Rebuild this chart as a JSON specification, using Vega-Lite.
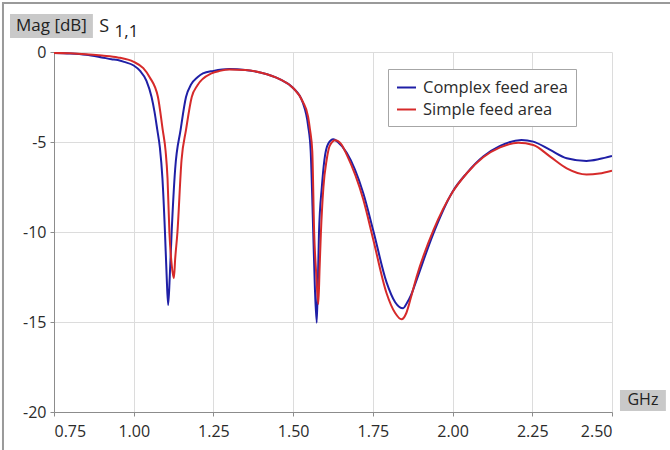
{
  "$schema": "https://vega.github.io/schema/vega-lite/v6.json",
  "width": 558,
  "height": 360,
  "autosize": "none",
  "padding": {"left": 54, "top": 52, "right": 58, "bottom": 38},
  "background": "white",
  "config": {
    "font": "Open Sans",
    "view": {"stroke": null},
    "axis": {
      "gridColor": "#dcdcdc",
      "gridWidth": 1,
      "domainColor": "#8c8c8c",
      "tickColor": "#8c8c8c",
      "tickSize": 4,
      "labelFont": "Open Sans",
      "labelFontSize": 16,
      "labelColor": "#2b2b2b",
      "title": null
    },
    "legend": {
      "orient": "none",
      "legendX": 334,
      "legendY": 17,
      "title": null,
      "symbolType": "stroke",
      "symbolSize": 361,
      "symbolStrokeWidth": 2,
      "labelFont": "Open Sans",
      "labelFontSize": 16.5,
      "labelColor": "#2b2b2b",
      "labelOffset": 6,
      "strokeColor": "#a6a6a6",
      "fillColor": "white",
      "padding": 8,
      "rowPadding": 3
    }
  },
  "datasets": {
    "one": [{"k": 1}],
    "curves": [
      {"f": 0.75, "db": -0.05, "s": "Complex feed area"},
      {"f": 0.80, "db": -0.08, "s": "Complex feed area"},
      {"f": 0.85, "db": -0.15, "s": "Complex feed area"},
      {"f": 0.90, "db": -0.3, "s": "Complex feed area"},
      {"f": 0.93, "db": -0.4, "s": "Complex feed area"},
      {"f": 0.95, "db": -0.45, "s": "Complex feed area"},
      {"f": 0.97, "db": -0.55, "s": "Complex feed area"},
      {"f": 1.00, "db": -0.75, "s": "Complex feed area"},
      {"f": 1.02, "db": -1.05, "s": "Complex feed area"},
      {"f": 1.04, "db": -1.6, "s": "Complex feed area"},
      {"f": 1.056, "db": -2.5, "s": "Complex feed area"},
      {"f": 1.065, "db": -3.3, "s": "Complex feed area"},
      {"f": 1.074, "db": -4.33, "s": "Complex feed area"},
      {"f": 1.082, "db": -5.3, "s": "Complex feed area"},
      {"f": 1.09, "db": -7.0, "s": "Complex feed area"},
      {"f": 1.098, "db": -10.0, "s": "Complex feed area"},
      {"f": 1.103, "db": -12.3, "s": "Complex feed area"},
      {"f": 1.108, "db": -14.06, "s": "Complex feed area"},
      {"f": 1.113, "db": -12.5, "s": "Complex feed area"},
      {"f": 1.119, "db": -10.0, "s": "Complex feed area"},
      {"f": 1.13, "db": -6.5, "s": "Complex feed area"},
      {"f": 1.147, "db": -4.33, "s": "Complex feed area"},
      {"f": 1.164, "db": -2.5, "s": "Complex feed area"},
      {"f": 1.18, "db": -1.8, "s": "Complex feed area"},
      {"f": 1.2, "db": -1.4, "s": "Complex feed area"},
      {"f": 1.217, "db": -1.19, "s": "Complex feed area"},
      {"f": 1.25, "db": -1.05, "s": "Complex feed area"},
      {"f": 1.3, "db": -0.95, "s": "Complex feed area"},
      {"f": 1.35, "db": -1.0, "s": "Complex feed area"},
      {"f": 1.4, "db": -1.15, "s": "Complex feed area"},
      {"f": 1.459, "db": -1.52, "s": "Complex feed area"},
      {"f": 1.5, "db": -2.0, "s": "Complex feed area"},
      {"f": 1.53, "db": -2.8, "s": "Complex feed area"},
      {"f": 1.547, "db": -4.1, "s": "Complex feed area"},
      {"f": 1.555, "db": -5.5, "s": "Complex feed area"},
      {"f": 1.563, "db": -10.0, "s": "Complex feed area"},
      {"f": 1.568, "db": -13.0, "s": "Complex feed area"},
      {"f": 1.574, "db": -15.04, "s": "Complex feed area"},
      {"f": 1.578, "db": -12.5, "s": "Complex feed area"},
      {"f": 1.581, "db": -10.07, "s": "Complex feed area"},
      {"f": 1.59, "db": -7.5, "s": "Complex feed area"},
      {"f": 1.598, "db": -6.0, "s": "Complex feed area"},
      {"f": 1.61, "db": -5.1, "s": "Complex feed area"},
      {"f": 1.626, "db": -4.85, "s": "Complex feed area"},
      {"f": 1.64, "db": -5.0, "s": "Complex feed area"},
      {"f": 1.668, "db": -5.6, "s": "Complex feed area"},
      {"f": 1.72, "db": -7.85, "s": "Complex feed area"},
      {"f": 1.751, "db": -9.9, "s": "Complex feed area"},
      {"f": 1.793, "db": -12.8, "s": "Complex feed area"},
      {"f": 1.82, "db": -13.9, "s": "Complex feed area"},
      {"f": 1.845, "db": -14.24, "s": "Complex feed area"},
      {"f": 1.855, "db": -14.0, "s": "Complex feed area"},
      {"f": 1.87, "db": -13.5, "s": "Complex feed area"},
      {"f": 1.887, "db": -12.67, "s": "Complex feed area"},
      {"f": 1.94, "db": -10.07, "s": "Complex feed area"},
      {"f": 2.0, "db": -7.76, "s": "Complex feed area"},
      {"f": 2.044, "db": -6.74, "s": "Complex feed area"},
      {"f": 2.096, "db": -5.81, "s": "Complex feed area"},
      {"f": 2.149, "db": -5.22, "s": "Complex feed area"},
      {"f": 2.216, "db": -4.89, "s": "Complex feed area"},
      {"f": 2.253, "db": -4.98, "s": "Complex feed area"},
      {"f": 2.306, "db": -5.44, "s": "Complex feed area"},
      {"f": 2.358, "db": -5.9, "s": "Complex feed area"},
      {"f": 2.42, "db": -6.05, "s": "Complex feed area"},
      {"f": 2.46, "db": -5.95, "s": "Complex feed area"},
      {"f": 2.5, "db": -5.78, "s": "Complex feed area"},
      {"f": 0.75, "db": -0.05, "s": "Simple feed area"},
      {"f": 0.80, "db": -0.07, "s": "Simple feed area"},
      {"f": 0.85, "db": -0.12, "s": "Simple feed area"},
      {"f": 0.90, "db": -0.2, "s": "Simple feed area"},
      {"f": 0.95, "db": -0.3, "s": "Simple feed area"},
      {"f": 1.00, "db": -0.55, "s": "Simple feed area"},
      {"f": 1.03, "db": -0.9, "s": "Simple feed area"},
      {"f": 1.05, "db": -1.4, "s": "Simple feed area"},
      {"f": 1.076, "db": -2.5, "s": "Simple feed area"},
      {"f": 1.091, "db": -4.33, "s": "Simple feed area"},
      {"f": 1.10, "db": -5.5, "s": "Simple feed area"},
      {"f": 1.106, "db": -7.0, "s": "Simple feed area"},
      {"f": 1.112, "db": -10.04, "s": "Simple feed area"},
      {"f": 1.119, "db": -11.8, "s": "Simple feed area"},
      {"f": 1.126, "db": -12.57, "s": "Simple feed area"},
      {"f": 1.13, "db": -11.5, "s": "Simple feed area"},
      {"f": 1.137, "db": -10.04, "s": "Simple feed area"},
      {"f": 1.15, "db": -6.0, "s": "Simple feed area"},
      {"f": 1.164, "db": -4.33, "s": "Simple feed area"},
      {"f": 1.182, "db": -2.5, "s": "Simple feed area"},
      {"f": 1.2, "db": -1.85, "s": "Simple feed area"},
      {"f": 1.244, "db": -1.19, "s": "Simple feed area"},
      {"f": 1.27, "db": -1.05, "s": "Simple feed area"},
      {"f": 1.3, "db": -0.97, "s": "Simple feed area"},
      {"f": 1.35, "db": -1.0, "s": "Simple feed area"},
      {"f": 1.4, "db": -1.15, "s": "Simple feed area"},
      {"f": 1.459, "db": -1.52, "s": "Simple feed area"},
      {"f": 1.5, "db": -2.0, "s": "Simple feed area"},
      {"f": 1.53, "db": -2.75, "s": "Simple feed area"},
      {"f": 1.547, "db": -3.6, "s": "Simple feed area"},
      {"f": 1.553, "db": -4.33, "s": "Simple feed area"},
      {"f": 1.56, "db": -5.5, "s": "Simple feed area"},
      {"f": 1.566, "db": -10.07, "s": "Simple feed area"},
      {"f": 1.573, "db": -12.5, "s": "Simple feed area"},
      {"f": 1.579, "db": -14.0, "s": "Simple feed area"},
      {"f": 1.583, "db": -12.0, "s": "Simple feed area"},
      {"f": 1.587, "db": -10.07, "s": "Simple feed area"},
      {"f": 1.595, "db": -7.5, "s": "Simple feed area"},
      {"f": 1.605, "db": -6.0, "s": "Simple feed area"},
      {"f": 1.615, "db": -5.2, "s": "Simple feed area"},
      {"f": 1.632, "db": -4.9, "s": "Simple feed area"},
      {"f": 1.65, "db": -5.1, "s": "Simple feed area"},
      {"f": 1.668, "db": -5.7, "s": "Simple feed area"},
      {"f": 1.72, "db": -8.2, "s": "Simple feed area"},
      {"f": 1.751, "db": -10.4, "s": "Simple feed area"},
      {"f": 1.793, "db": -13.4, "s": "Simple feed area"},
      {"f": 1.82, "db": -14.5, "s": "Simple feed area"},
      {"f": 1.84, "db": -14.85, "s": "Simple feed area"},
      {"f": 1.855, "db": -14.5, "s": "Simple feed area"},
      {"f": 1.87, "db": -13.6, "s": "Simple feed area"},
      {"f": 1.887, "db": -12.5, "s": "Simple feed area"},
      {"f": 1.94, "db": -9.9, "s": "Simple feed area"},
      {"f": 2.0, "db": -7.78, "s": "Simple feed area"},
      {"f": 2.044, "db": -6.75, "s": "Simple feed area"},
      {"f": 2.096, "db": -5.85, "s": "Simple feed area"},
      {"f": 2.149, "db": -5.3, "s": "Simple feed area"},
      {"f": 2.206, "db": -5.04, "s": "Simple feed area"},
      {"f": 2.253, "db": -5.17, "s": "Simple feed area"},
      {"f": 2.306, "db": -5.81, "s": "Simple feed area"},
      {"f": 2.358, "db": -6.46, "s": "Simple feed area"},
      {"f": 2.42, "db": -6.8, "s": "Simple feed area"},
      {"f": 2.46, "db": -6.75, "s": "Simple feed area"},
      {"f": 2.5, "db": -6.59, "s": "Simple feed area"}
    ]
  },
  "layer": [
    {
      "data": {"name": "curves"},
      "mark": {"type": "line", "strokeWidth": 2, "clip": true, "interpolate": "monotone"},
      "encoding": {
        "x": {
          "field": "f", "type": "quantitative",
          "scale": {"domain": [0.75, 2.5], "nice": false, "zero": false},
          "axis": {"values": [0.75, 1.0, 1.25, 1.5, 1.75, 2.0, 2.25, 2.5], "format": ".2f", "labelPadding": 7, "title": null}
        },
        "y": {
          "field": "db", "type": "quantitative",
          "scale": {"domain": [-20, 0], "nice": false, "zero": false},
          "axis": {"values": [0, -5, -10, -15, -20], "labelExpr": "'' + datum.value", "labelPadding": 4, "title": null}
        },
        "color": {
          "field": "s", "type": "nominal",
          "scale": {"domain": ["Complex feed area", "Simple feed area"], "range": ["#1f1fa6", "#d62a2a"]},
          "legend": {}
        },
        "order": {"field": "f", "type": "quantitative"}
      }
    },
    {
      "data": {"name": "one"},
      "mark": {"type": "rect", "fill": "#c9c9c9"},
      "encoding": {
        "x": {"datum": 0.612, "type": "quantitative", "title": null},
        "x2": {"datum": 0.872},
        "y": {"datum": 2.11, "type": "quantitative", "title": null},
        "y2": {"datum": 0.78}
      }
    },
    {
      "data": {"name": "one"},
      "mark": {"type": "text", "text": "Mag [dB]", "fontSize": 17, "color": "#222222", "align": "center", "baseline": "middle"},
      "encoding": {
        "x": {"datum": 0.742, "type": "quantitative", "title": null},
        "y": {"datum": 1.42, "type": "quantitative", "title": null}
      }
    },
    {
      "data": {"name": "one"},
      "mark": {"type": "text", "text": "S", "fontSize": 18, "color": "#222222", "align": "left", "baseline": "middle"},
      "encoding": {
        "x": {"datum": 0.892, "type": "quantitative", "title": null},
        "y": {"datum": 1.38, "type": "quantitative", "title": null}
      }
    },
    {
      "data": {"name": "one"},
      "mark": {"type": "text", "text": "1,1", "fontSize": 17, "color": "#222222", "align": "left", "baseline": "middle"},
      "encoding": {
        "x": {"datum": 0.94, "type": "quantitative", "title": null},
        "y": {"datum": 1.1, "type": "quantitative", "title": null}
      }
    },
    {
      "data": {"name": "one"},
      "mark": {"type": "rect", "fill": "#c9c9c9"},
      "encoding": {
        "x": {"datum": 2.525, "type": "quantitative", "title": null},
        "x2": {"datum": 2.669},
        "y": {"datum": -18.78, "type": "quantitative", "title": null},
        "y2": {"datum": -19.94}
      }
    },
    {
      "data": {"name": "one"},
      "mark": {"type": "text", "text": "GHz", "fontSize": 16, "color": "#222222", "align": "center", "baseline": "middle"},
      "encoding": {
        "x": {"datum": 2.597, "type": "quantitative", "title": null},
        "y": {"datum": -19.36, "type": "quantitative", "title": null}
      }
    },
    {
      "data": {"name": "one"},
      "mark": {"type": "rect", "fill": null, "stroke": "#9a9a9a", "strokeWidth": 2},
      "encoding": {
        "x": {"datum": 0.59, "type": "quantitative", "title": null},
        "x2": {"datum": 2.8},
        "y": {"datum": 2.72, "type": "quantitative", "title": null},
        "y2": {"datum": -22.6}
      }
    }
  ]
}
